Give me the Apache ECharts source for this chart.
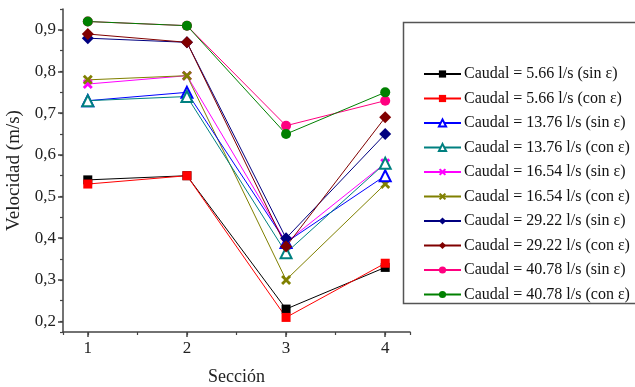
<!DOCTYPE html>
<html>
<head>
<meta charset="utf-8">
<script src="https://cdn.jsdelivr.net/npm/echarts@6/dist/echarts.min.js"></script>
<style>
  html, body { margin: 0; padding: 0; background: #fff; }
  #chart { width: 635px; height: 387px; }
</style>
</head>
<body>
<div id="chart"></div>
<script>
// Velocidad por sección
const sections = [1, 2, 3, 4];

const q566Sin = [0.54, 0.55, 0.23, 0.33];
const q566Con = [0.53, 0.55, 0.21, 0.34];
const q1376Sin = [0.73, 0.75, 0.39, 0.55];
const q1376Con = [0.73, 0.74, 0.365, 0.58];
const q1654Sin = [0.77, 0.79, 0.39, 0.58];
const q1654Con = [0.78, 0.79, 0.30, 0.53];
const q2922Sin = [0.88, 0.87, 0.40, 0.65];
const q2922Con = [0.89, 0.87, 0.38, 0.69];
const q4078Sin = [0.92, 0.91, 0.67, 0.73];
const q4078Con = [0.92, 0.91, 0.65, 0.75];

const names = [
  'Caudal = 5.66 l/s (sin ε)', 'Caudal = 5.66 l/s (con ε)',
  'Caudal = 13.76 l/s (sin ε)', 'Caudal = 13.76 l/s (con ε)',
  'Caudal = 16.54 l/s (sin ε)', 'Caudal = 16.54 l/s (con ε)',
  'Caudal = 29.22 l/s (sin ε)', 'Caudal = 29.22 l/s (con ε)',
  'Caudal = 40.78 l/s (sin ε)', 'Caudal = 40.78 l/s (con ε)'
];

const FONT = '"Liberation Serif", "DejaVu Serif", serif';
const AXIS = '#444';
const CROSS = 'path://M2,0 L5,3 L8,0 L10,2 L7,5 L10,8 L8,10 L5,7 L2,10 L0,8 L3,5 L0,2 Z';

const defs = [
  { v: q566Sin, c: '#000000', s: 'rect', size: 9, z: 8 },
  { v: q566Con, c: '#ff0000', s: 'rect', size: 9, z: 8 },
  { v: q1376Sin, c: '#0000ff', s: 'emptyTriangle', size: 11, z: 10 },
  { v: q1376Con, c: '#008080', s: 'emptyTriangle', size: 11, z: 10 },
  { v: q1654Sin, c: '#ff00ff', s: CROSS, size: 10, z: 9 },
  { v: q1654Con, c: '#808000', s: CROSS, size: 10, z: 9 },
  { v: q2922Sin, c: '#000080', s: 'diamond', size: 12, z: 11 },
  { v: q2922Con, c: '#800000', s: 'diamond', size: 12, z: 11 },
  { v: q4078Sin, c: '#ff0080', s: 'circle', size: 10, z: 10 },
  { v: q4078Con, c: '#008000', s: 'circle', size: 10, z: 10 }
];

const chart = echarts.init(document.getElementById('chart'));

const xBase = { type: 'value', min: 0.75, max: 4.25, position: 'bottom', splitLine: { show: false } };
const yBase = { type: 'value', min: 0.175, max: 0.95, position: 'left', splitLine: { show: false } };

chart.setOption({
  animation: false,
  backgroundColor: '#fff',
  textStyle: { fontFamily: FONT },
  grid: { left: 63, right: 225, top: 9, bottom: 55, containLabel: false, outerBoundsMode: 'none' },
  xAxis: [
    Object.assign({}, xBase, {
      splitNumber: 3,
      name: 'Sección', nameLocation: 'middle', nameGap: 36,
      nameTextStyle: { fontFamily: FONT, fontSize: 18, color: '#222' },
      axisLine: { lineStyle: { color: AXIS, width: 1.5 } },
      axisTick: { inside: false, length: 5, lineStyle: { color: AXIS, width: 1.5 } },
      axisLabel: {
        fontFamily: FONT, fontSize: 17, color: '#222', margin: 8,
        showMinLabel: false, showMaxLabel: false,
        formatter: v => Number.isInteger(v) ? String(v) : ''
      }
    }),
    Object.assign({}, xBase, {
      splitNumber: 7,
      axisLine: { show: false },
      axisTick: { inside: false, length: 3, lineStyle: { color: AXIS, width: 1.2 } },
      axisLabel: { show: false }
    })
  ],
  yAxis: [
    Object.assign({}, yBase, {
      splitNumber: 7,
      name: 'Velocidad (m/s)', nameLocation: 'middle', nameGap: 31, nameRotate: 90,
      nameTextStyle: { fontFamily: FONT, fontSize: 19, color: '#222' },
      axisLine: { show: true, lineStyle: { color: AXIS, width: 1.5 } },
      axisTick: { show: true, inside: false, length: 5, lineStyle: { color: AXIS, width: 1.5 } },
      axisLabel: {
        fontFamily: FONT, fontSize: 17, color: '#222', margin: 7,
        showMinLabel: false, showMaxLabel: false,
        formatter: v => v.toFixed(1).replace('.', ',')
      }
    }),
    Object.assign({}, yBase, {
      splitNumber: 15,
      axisLine: { show: false },
      axisTick: { show: true, inside: false, length: 3, lineStyle: { color: AXIS, width: 1.2 } },
      axisLabel: { show: false }
    })
  ],
  legend: {
    orient: 'vertical',
    left: 418, top: 61,
    itemWidth: 37, itemHeight: 9, itemGap: 8.5,
    textStyle: { fontFamily: FONT, fontSize: 16, color: '#111', padding: [0, 0, 0, -2] },
    data: names
  },
  graphic: [{
    type: 'rect', z: 100, silent: true,
    shape: { x: 403.5, y: 22.5, width: 240, height: 281 },
    style: { fill: 'none', stroke: '#555', lineWidth: 1.5 }
  }],
  series: defs.map((d, i) => ({
    name: names[i],
    type: 'line',
    xAxisIndex: 0, yAxisIndex: 0,
    data: sections.map((s, k) => [s, d.v[k]]),
    symbol: d.s,
    symbolSize: d.size,
    showAllSymbol: true,
    z: d.z,
    lineStyle: { color: d.c, width: 1 },
    itemStyle: { color: d.c, borderColor: d.c, borderWidth: d.s === 'emptyTriangle' ? 1.2 : 0 }
  }))
});
</script>
</body>
</html>
